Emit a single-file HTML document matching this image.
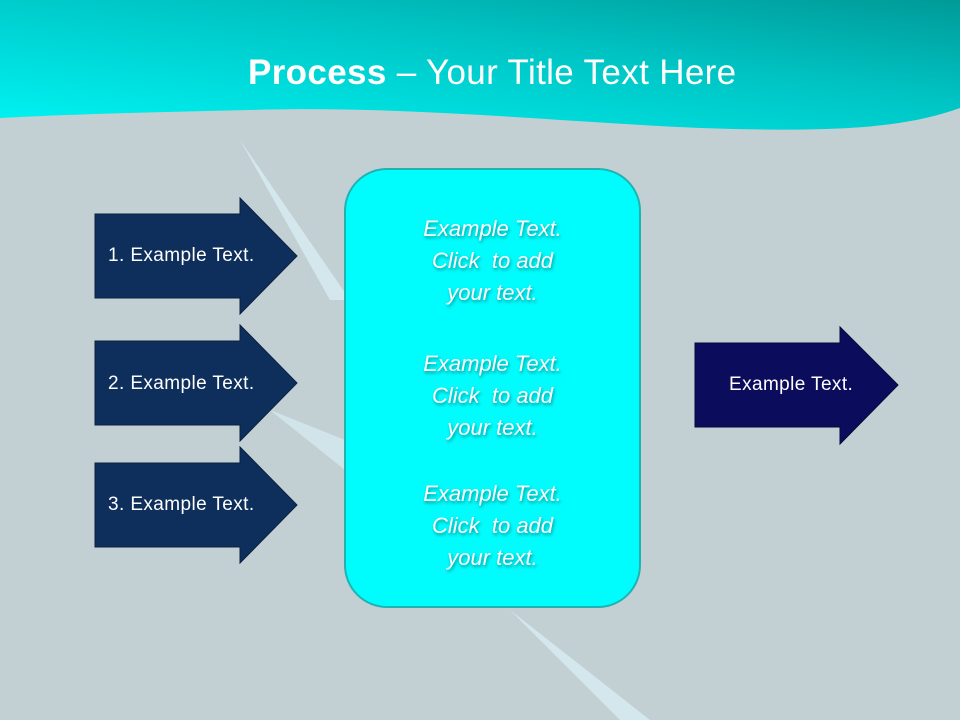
<!DOCTYPE html>
<html><head><meta charset="utf-8"><style>
html,body{margin:0;padding:0}
body{width:960px;height:720px;position:relative;overflow:hidden;background:#c3d0d3;font-family:"Liberation Sans",sans-serif}
svg{position:absolute;left:0;top:0}
.t{position:absolute;color:#fff;font-size:19px;letter-spacing:0.4px;white-space:nowrap}
.c{position:absolute;left:344px;width:297px;text-align:center;color:#fff;font-style:italic;font-size:22px;line-height:32px;text-shadow:1px 2px 3px rgba(0,80,90,.6)}
</style></head><body>
<svg width="960" height="720">
<defs>
<linearGradient id="h" x1="0" y1="1" x2="1" y2="0">
<stop offset="0" stop-color="#00f4f4"/><stop offset="0.6" stop-color="#00c4c4"/><stop offset="1" stop-color="#009a98"/>
</linearGradient>
</defs>
<path d="M0 0H960V108C900 130 820 132 700 128C560 122 400 105 250 110C160 112 80 114 0 118Z" fill="url(#h)"/>
<polygon points="240,140 350,300 330,300" fill="#dff6ff" opacity=".6"/>
<polygon points="510,610 650,720 620,720" fill="#dff6ff" opacity=".6"/>
<polygon points="270,410 345,470 345,440" fill="#e0f8ff" opacity=".5"/>
<polygon points="95,214 240,214 240,198 297,256 240,314 240,298 95,298" fill="#0e2f5c" stroke="#0a2040"/>
<polygon points="95,341 240,341 240,325 297,383 240,441 240,425 95,425" fill="#0e2f5c" stroke="#0a2040"/>
<polygon points="95,463 240,463 240,447 297,505 240,563 240,547 95,547" fill="#0e2f5c" stroke="#0a2040"/>
<polygon points="695,343 840,343 840,327 898,385 840,444 840,427 695,427" fill="#0c0c5c" stroke="#06063a"/>
<rect x="345" y="169" width="295" height="438" rx="42" fill="#00fdfd" stroke="#1fb3b3" stroke-width="2"/>
</svg>
<div class="t" style="left:248px;top:53px;font-size:35px;letter-spacing:0.35px">
<b>Process</b> – Your Title Text Here</div>
<div class="t" style="left:108px;top:245px">1. Example Text.</div>
<div class="t" style="left:108px;top:373px">2. Example Text.</div>
<div class="t" style="left:108px;top:494px">3. Example Text.</div>
<div class="t" style="left:729px;top:374px">Example Text.</div>
<div class="c" style="top:213px">Example Text.<br>Click&nbsp; to add<br>your text.</div>
<div class="c" style="top:348px">Example Text.<br>Click&nbsp; to add<br>your text.</div>
<div class="c" style="top:478px">Example Text.<br>Click&nbsp; to add<br>your text.</div>
</body></html>
